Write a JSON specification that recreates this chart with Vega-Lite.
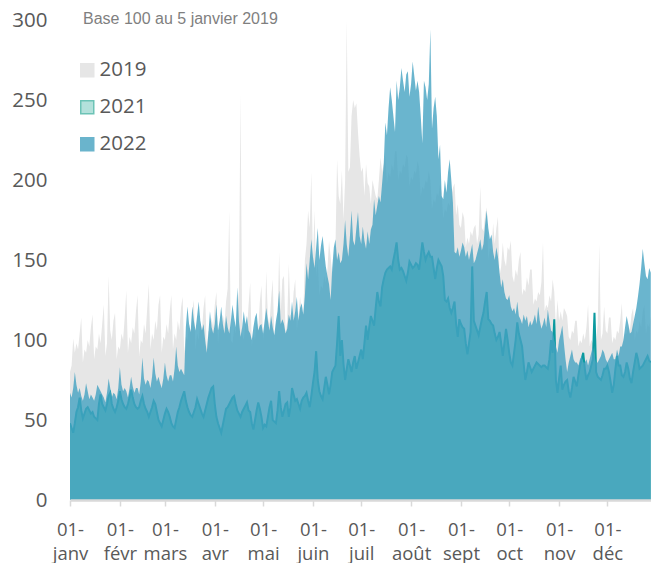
{
"$schema":"https://vega.github.io/schema/vega-lite/v6.json",
"width":581,"height":480,
"autosize":{"type":"none"},
"padding":{"left":70,"top":20,"right":0,"bottom":63},
"background":"white",
"title":{"text":"Base 100 au 5 janvier 2019","anchor":"start","frame":"group","font":"Liberation Sans","fontSize":16,"fontWeight":"normal","color":"#7f7f7f","dx":13,"dy":30,"offset":0,"baseline":"alphabetic"},
"datasets":{"legend":[{"k":"2019"},{"k":"2021"},{"k":"2022"}]},
"data":{"format":{"parse":{"d":"utc:'%Y-%m-%d'"}},"values":[
{"d":"2022-01-01","a":80,"b":48,"c":67},{"d":"2022-01-02","a":84,"b":45,"c":64},{"d":"2022-01-03","a":101,"b":42,"c":70},{"d":"2022-01-04","a":92,"b":48,"c":80},{"d":"2022-01-05","a":98,"b":55,"c":72},{"d":"2022-01-06","a":94,"b":58,"c":67},{"d":"2022-01-07","a":104,"b":64,"c":70},
{"d":"2022-01-08","a":114,"b":56,"c":65},{"d":"2022-01-09","a":86,"b":51,"c":62},{"d":"2022-01-10","a":94,"b":54,"c":66},{"d":"2022-01-11","a":92,"b":57,"c":73},{"d":"2022-01-12","a":100,"b":58,"c":68},{"d":"2022-01-13","a":96,"b":56,"c":63},{"d":"2022-01-14","a":108,"b":54,"c":66},
{"d":"2022-01-15","a":116,"b":55,"c":64},{"d":"2022-01-16","a":88,"b":52,"c":62},{"d":"2022-01-17","a":96,"b":51,"c":66},{"d":"2022-01-18","a":94,"b":50,"c":72},{"d":"2022-01-19","a":104,"b":60,"c":70},{"d":"2022-01-20","a":98,"b":66,"c":68},{"d":"2022-01-21","a":110,"b":60,"c":66},
{"d":"2022-01-22","a":122,"b":58,"c":64},{"d":"2022-01-23","a":90,"b":56,"c":61},{"d":"2022-01-24","a":98,"b":60,"c":67},{"d":"2022-01-25","a":140,"b":65,"c":76},{"d":"2022-01-26","a":106,"b":67,"c":70},{"d":"2022-01-27","a":100,"b":60,"c":64},{"d":"2022-01-28","a":112,"b":57,"c":67},
{"d":"2022-01-29","a":117,"b":55,"c":66},{"d":"2022-01-30","a":88,"b":58,"c":63},{"d":"2022-01-31","a":96,"b":62,"c":70},
{"d":"2022-02-01","a":94,"b":68,"c":83},{"d":"2022-02-02","a":104,"b":63,"c":72},{"d":"2022-02-03","a":100,"b":60,"c":68},{"d":"2022-02-04","a":114,"b":58,"c":70},{"d":"2022-02-05","a":131,"b":57,"c":68},{"d":"2022-02-06","a":92,"b":60,"c":64},{"d":"2022-02-07","a":102,"b":64,"c":70},
{"d":"2022-02-08","a":98,"b":69,"c":77},{"d":"2022-02-09","a":108,"b":64,"c":71},{"d":"2022-02-10","a":104,"b":60,"c":67},{"d":"2022-02-11","a":118,"b":58,"c":70},{"d":"2022-02-12","a":128,"b":57,"c":70},{"d":"2022-02-13","a":90,"b":58,"c":66},{"d":"2022-02-14","a":100,"b":62,"c":74},
{"d":"2022-02-15","a":98,"b":65,"c":89},{"d":"2022-02-16","a":110,"b":60,"c":76},{"d":"2022-02-17","a":104,"b":57,"c":72},{"d":"2022-02-18","a":120,"b":55,"c":75},{"d":"2022-02-19","a":135,"b":52,"c":74},{"d":"2022-02-20","a":94,"b":55,"c":70},{"d":"2022-02-21","a":104,"b":58,"c":77},
{"d":"2022-02-22","a":100,"b":62,"c":89},{"d":"2022-02-23","a":112,"b":60,"c":79},{"d":"2022-02-24","a":106,"b":55,"c":74},{"d":"2022-02-25","a":122,"b":50,"c":77},{"d":"2022-02-26","a":128,"b":48,"c":73},{"d":"2022-02-27","a":92,"b":46,"c":70},{"d":"2022-02-28","a":102,"b":50,"c":76},
{"d":"2022-03-01","a":100,"b":54,"c":86},{"d":"2022-03-02","a":110,"b":57,"c":78},{"d":"2022-03-03","a":104,"b":55,"c":74},{"d":"2022-03-04","a":118,"b":52,"c":78},{"d":"2022-03-05","a":128,"b":48,"c":78},{"d":"2022-03-06","a":94,"b":46,"c":74},{"d":"2022-03-07","a":104,"b":45,"c":82},
{"d":"2022-03-08","a":100,"b":50,"c":96},{"d":"2022-03-09","a":112,"b":55,"c":84},{"d":"2022-03-10","a":106,"b":58,"c":80},{"d":"2022-03-11","a":120,"b":62,"c":82},{"d":"2022-03-12","a":127,"b":65,"c":80},{"d":"2022-03-13","a":92,"b":68,"c":78},{"d":"2022-03-14","a":102,"b":62,"c":108},
{"d":"2022-03-15","a":100,"b":58,"c":121},{"d":"2022-03-16","a":110,"b":55,"c":110},{"d":"2022-03-17","a":104,"b":53,"c":105},{"d":"2022-03-18","a":118,"b":52,"c":121},{"d":"2022-03-19","a":125,"b":55,"c":112},{"d":"2022-03-20","a":94,"b":58,"c":106},{"d":"2022-03-21","a":104,"b":63,"c":115},
{"d":"2022-03-22","a":100,"b":60,"c":124},{"d":"2022-03-23","a":112,"b":57,"c":112},{"d":"2022-03-24","a":106,"b":54,"c":106},{"d":"2022-03-25","a":120,"b":52,"c":110},{"d":"2022-03-26","a":128,"b":56,"c":100},{"d":"2022-03-27","a":96,"b":60,"c":92},{"d":"2022-03-28","a":106,"b":64,"c":104},
{"d":"2022-03-29","a":104,"b":67,"c":118},{"d":"2022-03-30","a":114,"b":70,"c":108},{"d":"2022-03-31","a":108,"b":71,"c":104},
{"d":"2022-04-01","a":122,"b":60,"c":110},{"d":"2022-04-02","a":130,"b":52,"c":122},{"d":"2022-04-03","a":98,"b":48,"c":106},{"d":"2022-04-04","a":108,"b":45,"c":112},{"d":"2022-04-05","a":106,"b":42,"c":121},{"d":"2022-04-06","a":116,"b":47,"c":110},{"d":"2022-04-07","a":110,"b":52,"c":104},
{"d":"2022-04-08","a":124,"b":57,"c":115},{"d":"2022-04-09","a":132,"b":58,"c":108},{"d":"2022-04-10","a":181,"b":60,"c":104},{"d":"2022-04-11","a":100,"b":62,"c":112},{"d":"2022-04-12","a":98,"b":64,"c":122},{"d":"2022-04-13","a":108,"b":65,"c":114},{"d":"2022-04-14","a":104,"b":60,"c":108},
{"d":"2022-04-15","a":120,"b":56,"c":133},{"d":"2022-04-16","a":130,"b":54,"c":112},{"d":"2022-04-17","a":254,"b":52,"c":102},{"d":"2022-04-18","a":104,"b":55,"c":108},{"d":"2022-04-19","a":100,"b":57,"c":118},{"d":"2022-04-20","a":110,"b":59,"c":110},{"d":"2022-04-21","a":106,"b":61,"c":115},
{"d":"2022-04-22","a":122,"b":56,"c":106},{"d":"2022-04-23","a":136,"b":55,"c":104},{"d":"2022-04-24","a":96,"b":48,"c":100},{"d":"2022-04-25","a":104,"b":44,"c":108},{"d":"2022-04-26","a":100,"b":50,"c":114},{"d":"2022-04-27","a":112,"b":56,"c":117},{"d":"2022-04-28","a":106,"b":61,"c":106},
{"d":"2022-04-29","a":124,"b":57,"c":109},{"d":"2022-04-30","a":134,"b":52,"c":110},
{"d":"2022-05-01","a":100,"b":45,"c":104},{"d":"2022-05-02","a":108,"b":47,"c":112},{"d":"2022-05-03","a":143,"b":46,"c":120},{"d":"2022-05-04","a":114,"b":52,"c":112},{"d":"2022-05-05","a":110,"b":58,"c":106},{"d":"2022-05-06","a":126,"b":62,"c":115},{"d":"2022-05-07","a":138,"b":50,"c":108},
{"d":"2022-05-08","a":100,"b":49,"c":103},{"d":"2022-05-09","a":110,"b":48,"c":112},{"d":"2022-05-10","a":112,"b":56,"c":118},{"d":"2022-05-11","a":155,"b":68,"c":131},{"d":"2022-05-12","a":118,"b":58,"c":110},{"d":"2022-05-13","a":138,"b":52,"c":113},{"d":"2022-05-14","a":140,"b":56,"c":110},
{"d":"2022-05-15","a":104,"b":60,"c":104},{"d":"2022-05-16","a":112,"b":61,"c":107},{"d":"2022-05-17","a":148,"b":52,"c":116},{"d":"2022-05-18","a":116,"b":58,"c":112},{"d":"2022-05-19","a":114,"b":70,"c":124},{"d":"2022-05-20","a":130,"b":66,"c":112},{"d":"2022-05-21","a":138,"b":62,"c":118},
{"d":"2022-05-22","a":106,"b":63,"c":127},{"d":"2022-05-23","a":115,"b":60,"c":112},{"d":"2022-05-24","a":127,"b":57,"c":120},{"d":"2022-05-25","a":118,"b":62,"c":123},{"d":"2022-05-26","a":116,"b":64,"c":116},{"d":"2022-05-27","a":150,"b":65,"c":128},{"d":"2022-05-28","a":160,"b":67,"c":148},
{"d":"2022-05-29","a":181,"b":62,"c":138},{"d":"2022-05-30","a":170,"b":58,"c":150},{"d":"2022-05-31","a":205,"b":65,"c":163},
{"d":"2022-06-01","a":150,"b":73,"c":152},{"d":"2022-06-02","a":181,"b":80,"c":145},{"d":"2022-06-03","a":140,"b":93,"c":158},{"d":"2022-06-04","a":150,"b":75,"c":170},{"d":"2022-06-05","a":128,"b":68,"c":150},{"d":"2022-06-06","a":134,"b":65,"c":159},{"d":"2022-06-07","a":132,"b":63,"c":165},
{"d":"2022-06-08","a":140,"b":70,"c":155},{"d":"2022-06-09","a":136,"b":77,"c":146},{"d":"2022-06-10","a":144,"b":72,"c":140},{"d":"2022-06-11","a":162,"b":66,"c":135},{"d":"2022-06-12","a":152,"b":72,"c":125},{"d":"2022-06-13","a":140,"b":80,"c":145},{"d":"2022-06-14","a":150,"b":82,"c":158},
{"d":"2022-06-15","a":158,"b":84,"c":163},{"d":"2022-06-16","a":213,"b":98,"c":150},{"d":"2022-06-17","a":190,"b":115,"c":155},{"d":"2022-06-18","a":185,"b":90,"c":148},{"d":"2022-06-19","a":206,"b":100,"c":150},{"d":"2022-06-20","a":175,"b":85,"c":160},{"d":"2022-06-21","a":200,"b":75,"c":175},
{"d":"2022-06-22","a":300,"b":82,"c":160},{"d":"2022-06-23","a":205,"b":88,"c":152},{"d":"2022-06-24","a":208,"b":84,"c":165},{"d":"2022-06-25","a":240,"b":80,"c":181},{"d":"2022-06-26","a":250,"b":86,"c":162},{"d":"2022-06-27","a":245,"b":90,"c":159},{"d":"2022-06-28","a":248,"b":82,"c":170},
{"d":"2022-06-29","a":230,"b":86,"c":180},{"d":"2022-06-30","a":215,"b":90,"c":165},
{"d":"2022-07-01","a":205,"b":94,"c":160},{"d":"2022-07-02","a":208,"b":88,"c":171},{"d":"2022-07-03","a":190,"b":98,"c":162},{"d":"2022-07-04","a":210,"b":109,"c":157},{"d":"2022-07-05","a":198,"b":100,"c":168},{"d":"2022-07-06","a":196,"b":108,"c":160},{"d":"2022-07-07","a":185,"b":115,"c":169},
{"d":"2022-07-08","a":200,"b":112,"c":172},{"d":"2022-07-09","a":195,"b":109,"c":188},{"d":"2022-07-10","a":190,"b":120,"c":178},{"d":"2022-07-11","a":188,"b":130,"c":184},{"d":"2022-07-12","a":200,"b":124,"c":190},{"d":"2022-07-13","a":214,"b":121,"c":186},{"d":"2022-07-14","a":205,"b":133,"c":198},
{"d":"2022-07-15","a":210,"b":138,"c":210},{"d":"2022-07-16","a":215,"b":142,"c":236},{"d":"2022-07-17","a":198,"b":144,"c":228},{"d":"2022-07-18","a":205,"b":145,"c":245},{"d":"2022-07-19","a":202,"b":146,"c":258},{"d":"2022-07-20","a":210,"b":144,"c":250},{"d":"2022-07-21","a":206,"b":150,"c":240},
{"d":"2022-07-22","a":218,"b":155,"c":230},{"d":"2022-07-23","a":218,"b":161,"c":262},{"d":"2022-07-24","a":200,"b":150,"c":250},{"d":"2022-07-25","a":206,"b":144,"c":258},{"d":"2022-07-26","a":204,"b":145,"c":270},{"d":"2022-07-27","a":210,"b":143,"c":262},{"d":"2022-07-28","a":208,"b":140,"c":255},
{"d":"2022-07-29","a":216,"b":137,"c":266},{"d":"2022-07-30","a":214,"b":142,"c":268},{"d":"2022-07-31","a":196,"b":149,"c":252},
{"d":"2022-08-01","a":202,"b":147,"c":260},{"d":"2022-08-02","a":200,"b":145,"c":274},{"d":"2022-08-03","a":206,"b":146,"c":265},{"d":"2022-08-04","a":204,"b":148,"c":256},{"d":"2022-08-05","a":212,"b":147,"c":262},{"d":"2022-08-06","a":208,"b":144,"c":255},{"d":"2022-08-07","a":190,"b":152,"c":240},
{"d":"2022-08-08","a":196,"b":161,"c":223},{"d":"2022-08-09","a":194,"b":155,"c":262},{"d":"2022-08-10","a":200,"b":150,"c":258},{"d":"2022-08-11","a":198,"b":153,"c":250},{"d":"2022-08-12","a":206,"b":155,"c":260},{"d":"2022-08-13","a":200,"b":152,"c":294},{"d":"2022-08-14","a":182,"b":152,"c":232},
{"d":"2022-08-15","a":188,"b":145,"c":245},{"d":"2022-08-16","a":186,"b":138,"c":252},{"d":"2022-08-17","a":192,"b":145,"c":240},{"d":"2022-08-18","a":190,"b":150,"c":213},{"d":"2022-08-19","a":198,"b":148,"c":222},{"d":"2022-08-20","a":192,"b":146,"c":190},{"d":"2022-08-21","a":176,"b":140,"c":188},
{"d":"2022-08-22","a":182,"b":125,"c":200},{"d":"2022-08-23","a":180,"b":124,"c":192},{"d":"2022-08-24","a":186,"b":126,"c":205},{"d":"2022-08-25","a":184,"b":120,"c":213},{"d":"2022-08-26","a":190,"b":117,"c":200},{"d":"2022-08-27","a":195,"b":120,"c":186},{"d":"2022-08-28","a":198,"b":124,"c":155},
{"d":"2022-08-29","a":178,"b":110,"c":154},{"d":"2022-08-30","a":185,"b":102,"c":158},{"d":"2022-08-31","a":172,"b":113,"c":152},
{"d":"2022-09-01","a":170,"b":110,"c":156},{"d":"2022-09-02","a":180,"b":108,"c":161},{"d":"2022-09-03","a":176,"b":107,"c":158},{"d":"2022-09-04","a":158,"b":98,"c":152},{"d":"2022-09-05","a":164,"b":91,"c":156},{"d":"2022-09-06","a":160,"b":98,"c":150},{"d":"2022-09-07","a":168,"b":105,"c":155},
{"d":"2022-09-08","a":165,"b":146,"c":160},{"d":"2022-09-09","a":170,"b":112,"c":148},{"d":"2022-09-10","a":172,"b":109,"c":150},{"d":"2022-09-11","a":160,"b":106,"c":154},{"d":"2022-09-12","a":166,"b":103,"c":158},{"d":"2022-09-13","a":196,"b":108,"c":163},{"d":"2022-09-14","a":170,"b":113,"c":156},
{"d":"2022-09-15","a":168,"b":117,"c":160},{"d":"2022-09-16","a":178,"b":124,"c":172},{"d":"2022-09-17","a":183,"b":130,"c":181},{"d":"2022-09-18","a":150,"b":113,"c":170},{"d":"2022-09-19","a":158,"b":112,"c":163},{"d":"2022-09-20","a":156,"b":110,"c":166},{"d":"2022-09-21","a":173,"b":109,"c":155},
{"d":"2022-09-22","a":160,"b":104,"c":150},{"d":"2022-09-23","a":170,"b":100,"c":158},{"d":"2022-09-24","a":177,"b":102,"c":152},{"d":"2022-09-25","a":140,"b":105,"c":142},{"d":"2022-09-26","a":146,"b":98,"c":133},{"d":"2022-09-27","a":161,"b":90,"c":138},{"d":"2022-09-28","a":150,"b":98,"c":130},
{"d":"2022-09-29","a":146,"b":107,"c":126},{"d":"2022-09-30","a":158,"b":100,"c":125},
{"d":"2022-10-01","a":156,"b":92,"c":128},{"d":"2022-10-02","a":162,"b":86,"c":121},{"d":"2022-10-03","a":140,"b":84,"c":118},{"d":"2022-10-04","a":136,"b":92,"c":120},{"d":"2022-10-05","a":144,"b":100,"c":116},{"d":"2022-10-06","a":140,"b":111,"c":124},{"d":"2022-10-07","a":150,"b":104,"c":115},
{"d":"2022-10-08","a":155,"b":100,"c":113},{"d":"2022-10-09","a":128,"b":96,"c":110},{"d":"2022-10-10","a":132,"b":85,"c":116},{"d":"2022-10-11","a":130,"b":75,"c":112},{"d":"2022-10-12","a":139,"b":80,"c":115},{"d":"2022-10-13","a":134,"b":86,"c":108},{"d":"2022-10-14","a":144,"b":83,"c":112},
{"d":"2022-10-15","a":144,"b":80,"c":109},{"d":"2022-10-16","a":122,"b":82,"c":112},{"d":"2022-10-17","a":126,"b":84,"c":116},{"d":"2022-10-18","a":124,"b":86,"c":110},{"d":"2022-10-19","a":130,"b":85,"c":121},{"d":"2022-10-20","a":128,"b":84,"c":112},{"d":"2022-10-21","a":136,"b":83,"c":107},
{"d":"2022-10-22","a":161,"b":84,"c":110},{"d":"2022-10-23","a":118,"b":84,"c":114},{"d":"2022-10-24","a":122,"b":83,"c":108},{"d":"2022-10-25","a":120,"b":82,"c":119},{"d":"2022-10-26","a":128,"b":88,"c":112},{"d":"2022-10-27","a":124,"b":100,"c":106},{"d":"2022-10-28","a":138,"b":92,"c":105},
{"d":"2022-10-29","a":130,"b":113,"c":100},{"d":"2022-10-30","a":108,"b":75,"c":96},{"d":"2022-10-31","a":125,"b":67,"c":92},
{"d":"2022-11-01","a":112,"b":76,"c":100},{"d":"2022-11-02","a":118,"b":84,"c":104},{"d":"2022-11-03","a":112,"b":69,"c":109},{"d":"2022-11-04","a":120,"b":72,"c":98},{"d":"2022-11-05","a":118,"b":74,"c":88},{"d":"2022-11-06","a":115,"b":75,"c":80},{"d":"2022-11-07","a":102,"b":68,"c":86},
{"d":"2022-11-08","a":100,"b":64,"c":90},{"d":"2022-11-09","a":106,"b":70,"c":94},{"d":"2022-11-10","a":104,"b":77,"c":88},{"d":"2022-11-11","a":112,"b":74,"c":86},{"d":"2022-11-12","a":112,"b":71,"c":86},{"d":"2022-11-13","a":96,"b":78,"c":84},{"d":"2022-11-14","a":100,"b":84,"c":88},
{"d":"2022-11-15","a":98,"b":88,"c":90},{"d":"2022-11-16","a":104,"b":92,"c":86},{"d":"2022-11-17","a":100,"b":82,"c":86},{"d":"2022-11-18","a":108,"b":75,"c":88},{"d":"2022-11-19","a":122,"b":78,"c":84},{"d":"2022-11-20","a":96,"b":80,"c":88},{"d":"2022-11-21","a":100,"b":84,"c":92},
{"d":"2022-11-22","a":98,"b":88,"c":96},{"d":"2022-11-23","a":104,"b":117,"c":90},{"d":"2022-11-24","a":100,"b":80,"c":86},{"d":"2022-11-25","a":110,"b":77,"c":86},{"d":"2022-11-26","a":160,"b":76,"c":88},{"d":"2022-11-27","a":100,"b":75,"c":90},{"d":"2022-11-28","a":104,"b":78,"c":94},
{"d":"2022-11-29","a":121,"b":82,"c":92},{"d":"2022-11-30","a":106,"b":82,"c":88},
{"d":"2022-12-01","a":104,"b":84,"c":86},{"d":"2022-12-02","a":114,"b":80,"c":88},{"d":"2022-12-03","a":114,"b":74,"c":90},{"d":"2022-12-04","a":98,"b":67,"c":92},{"d":"2022-12-05","a":102,"b":72,"c":88},{"d":"2022-12-06","a":100,"b":82,"c":88},{"d":"2022-12-07","a":106,"b":90,"c":94},
{"d":"2022-12-08","a":104,"b":84,"c":90},{"d":"2022-12-09","a":112,"b":84,"c":96},{"d":"2022-12-10","a":123,"b":78,"c":96},{"d":"2022-12-11","a":100,"b":77,"c":100},{"d":"2022-12-12","a":104,"b":80,"c":108},{"d":"2022-12-13","a":104,"b":86,"c":115},{"d":"2022-12-14","a":110,"b":82,"c":110},
{"d":"2022-12-15","a":106,"b":76,"c":104},{"d":"2022-12-16","a":116,"b":73,"c":105},{"d":"2022-12-17","a":120,"b":80,"c":110},{"d":"2022-12-18","a":100,"b":86,"c":115},{"d":"2022-12-19","a":106,"b":92,"c":120},{"d":"2022-12-20","a":104,"b":88,"c":127},{"d":"2022-12-21","a":112,"b":82,"c":135},
{"d":"2022-12-22","a":108,"b":83,"c":145},{"d":"2022-12-23","a":118,"b":84,"c":157},{"d":"2022-12-24","a":122,"b":86,"c":148},{"d":"2022-12-25","a":104,"b":88,"c":140},{"d":"2022-12-26","a":110,"b":90,"c":138},{"d":"2022-12-27","a":108,"b":87,"c":145},{"d":"2022-12-28","a":115,"b":86,"c":142}
]},
"encoding":{
"x":{"field":"d","type":"temporal",
"scale":{"type":"utc","domain":[1640995200000,1672196400000]},
"axis":{"title":null,"grid":false,"zindex":1,
"values":[{"year":2022,"month":1,"date":1,"utc":true},{"year":2022,"month":2,"date":1,"utc":true},{"year":2022,"month":3,"date":1,"utc":true},{"year":2022,"month":4,"date":1,"utc":true},{"year":2022,"month":5,"date":1,"utc":true},{"year":2022,"month":6,"date":1,"utc":true},{"year":2022,"month":7,"date":1,"utc":true},{"year":2022,"month":8,"date":1,"utc":true},{"year":2022,"month":9,"date":1,"utc":true},{"year":2022,"month":10,"date":1,"utc":true},{"year":2022,"month":11,"date":1,"utc":true},{"year":2022,"month":12,"date":1,"utc":true}],
"labelExpr":"['01-', ['janv','févr','mars','avr','mai','juin','juil','août','sept','oct','nov','déc'][utcmonth(datum.value)]]",
"domainColor":"#d9d9d9","domainWidth":2.5,"tickColor":"#d9d9d9","tickWidth":1.5,"tickSize":6,
"labelFont":"Open Sans","labelFontSize":18.5,"labelColor":"#595959","labelPadding":14,"labelLineHeight":24,
"labelAlign":"center","labelBaseline":"top","labelOverlap":false,"labelFlush":false,"labelBound":false}}
},
"layer":[
{"mark":{"type":"area","clip":true,"color":"#e6e6e6"},
"encoding":{"y":{"field":"a","type":"quantitative","scale":{"domain":[0,300],"nice":false},
"axis":{"title":null,"values":[0,50,100,150,200,250,300],"domain":false,"ticks":false,"tickSize":0,"grid":false,"labelFont":"Open Sans","labelFontSize":20.5,"labelColor":"#595959","labelPadding":23}}}},
{"mark":{"type":"area","clip":true,"color":"#5bbfb0"},
"encoding":{"y":{"field":"b","type":"quantitative","scale":{"domain":[0,300],"nice":false},
"axis":{"title":null,"values":[0,50,100,150,200,250,300],"domain":false,"ticks":false,"tickSize":0,"grid":false,"labelFont":"Open Sans","labelFontSize":20.5,"labelColor":"#595959","labelPadding":23}}}},
{"mark":{"type":"line","clip":true,"color":"#0b9a9f","strokeWidth":2},
"encoding":{"y":{"field":"b","type":"quantitative","scale":{"domain":[0,300],"nice":false},
"axis":{"title":null,"values":[0,50,100,150,200,250,300],"domain":false,"ticks":false,"tickSize":0,"grid":false,"labelFont":"Open Sans","labelFontSize":20.5,"labelColor":"#595959","labelPadding":23}}}},
{"mark":{"type":"area","clip":true,"color":"#45a3c2","opacity":0.8},
"encoding":{"y":{"field":"c","type":"quantitative","scale":{"domain":[0,300],"nice":false},
"axis":{"title":null,"values":[0,50,100,150,200,250,300],"domain":false,"ticks":false,"tickSize":0,"grid":false,"labelFont":"Open Sans","labelFontSize":20.5,"labelColor":"#595959","labelPadding":23}}}},
{"data":{"name":"legend"},
"transform":[{"filter":"false"}],
"mark":{"type":"square","filled":true,"strokeWidth":1.5},
"encoding":{
"fill":{"field":"k","type":"nominal","scale":{"domain":["2019","2021","2022"],"range":["#e6e6e6","#b3e1db","#6ab4cc"]},
"legend":{"orient":"none","legendX":7,"legendY":40,"title":null,"symbolType":"square","symbolSize":169,"symbolStrokeWidth":1.5,"symbolOpacity":1,"labelFont":"Open Sans","labelFontSize":20.5,"labelColor":"#595959","labelOffset":2,"rowPadding":16,"padding":0,"direction":"vertical"}},
"stroke":{"field":"k","type":"nominal","scale":{"domain":["2019","2021","2022"],"range":["#e6e6e6","#6cc3b6","#6ab4cc"]},
"legend":{"orient":"none","legendX":7,"legendY":40,"title":null,"symbolType":"square","symbolSize":169,"symbolStrokeWidth":1.5,"symbolOpacity":1,"labelFont":"Open Sans","labelFontSize":20.5,"labelColor":"#595959","labelOffset":2,"rowPadding":16,"padding":0,"direction":"vertical"}}}}
],
"config":{"view":{"stroke":null},"font":"Open Sans"}
}
